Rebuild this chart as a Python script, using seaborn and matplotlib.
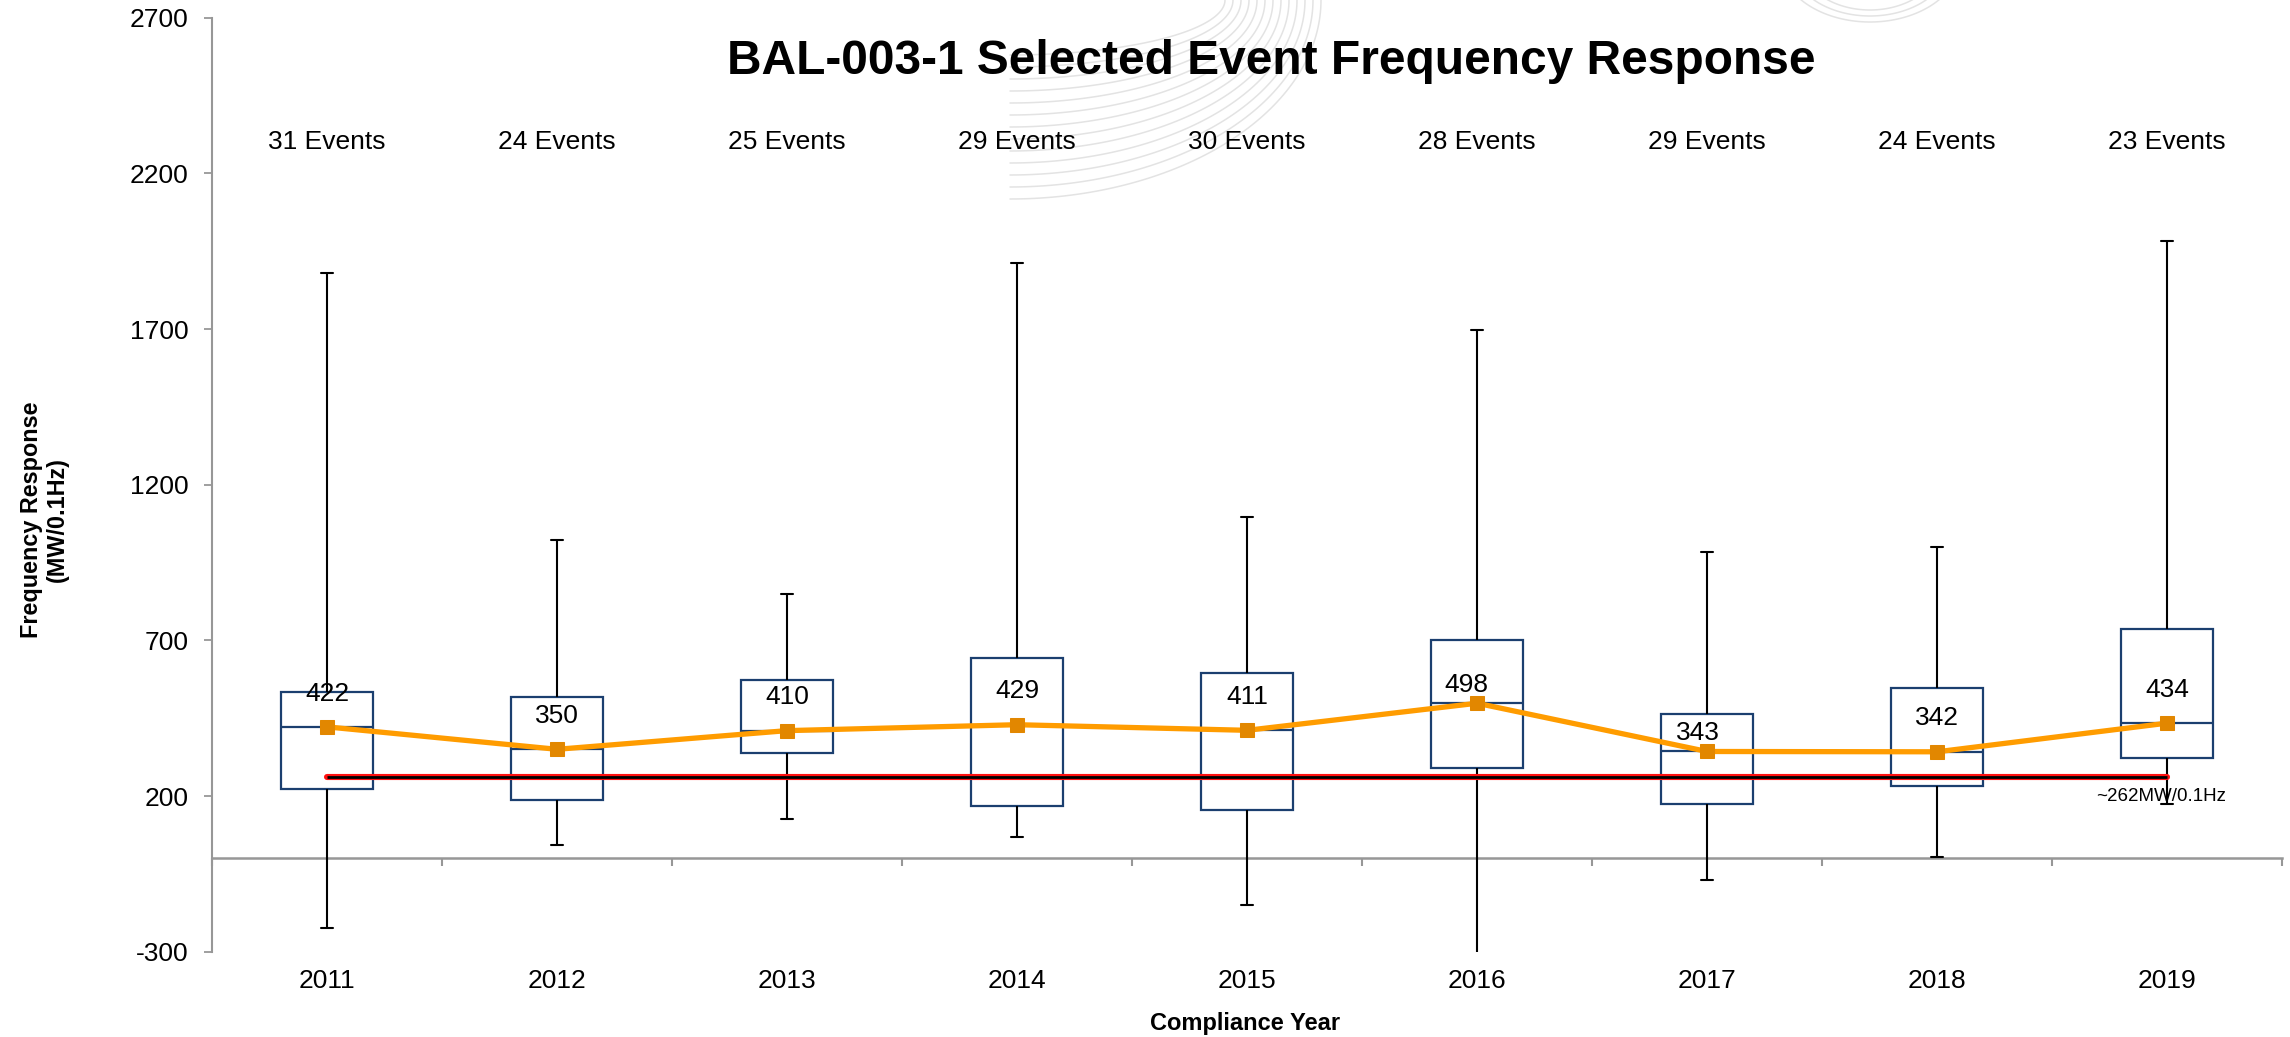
import numpy as np
import pandas as pd
import matplotlib
matplotlib.use("Agg")
import matplotlib.pyplot as plt
import seaborn as sns
from matplotlib.ticker import FixedLocator
from matplotlib.lines import Line2D

# ---------------- data ----------------
years = ["2011", "2012", "2013", "2014", "2015", "2016", "2017", "2018", "2019"]
event_counts = [31, 24, 25, 29, 30, 28, 29, 24, 23]
whisker_low = [-225, 42, 125, 68, -150, -330, -70, 3, 173]
q1 = [224, 187, 339, 168, 155, 289, 173, 233, 323]
median = [422, 350, 410, 429, 411, 498, 343, 342, 434]
q3 = [535, 517, 573, 644, 594, 701, 462, 546, 735]
whisker_high = [1880, 1022, 849, 1913, 1095, 1697, 985, 1001, 1983]
threshold = 262
threshold_label = "~262MW/0.1Hz"
y_ticks = [-300, 200, 700, 1200, 1700, 2200, 2700]

title = "BAL-003-1 Selected Event Frequency Response"
x_title = "Compliance Year"
y_title = "Frequency Response\n(MW/0.1Hz)"

# ---------------- style / layout ----------------
BOX_EDGE = "#1B3F6F"
ORANGE = "#FF9C00"
ORANGE_DARK = "#E28700"
SPINE = "#979797"
label_dx_pt = [0, 0, 0, 0, 0, -7.5, -6.5, 0, 0]
label_dy_pt = [24, 24, 24, 24, 24, 13, 13, 24, 24]
events_y = 2300

sns.set_theme(style="white")
plt.rcParams["font.family"] = ["Liberation Sans", "DejaVu Sans"]
plt.rcParams["axes.unicode_minus"] = False

rows = []
for i, yr in enumerate(years):
    for v in (whisker_low[i], q1[i], median[i], q3[i], whisker_high[i]):
        rows.append({"year": yr, "value": v})
df = pd.DataFrame(rows)

W, H = 2290, 1037
fig = plt.figure(figsize=(W / 100, H / 100), dpi=100)

# faint background watermark swirl (decoration)
for k in range(13):
    a = 215 + 8 * k
    b = 55 + 12 * k
    cx = 1010
    t = np.linspace(0, np.pi / 2, 80)
    xs = cx + a * np.cos(t)
    ys = b * np.sin(t)
    fig.add_artist(Line2D(xs / W, 1 - ys / H, color="#E3E3E3", lw=1.1,
                          transform=fig.transFigure, zorder=0))
for k in range(3):
    t = np.linspace(0.15 * np.pi, 0.85 * np.pi, 60)
    xs = 1870 + (70 + 10 * k) * np.cos(t)
    ys = -40 + (50 + 6 * k) * np.sin(t)
    fig.add_artist(Line2D(xs / W, 1 - ys / H, color="#E3E3E3", lw=1.1,
                          transform=fig.transFigure, zorder=0))

ax = fig.add_axes([0.0926, 0.0823, 0.90393, 0.9006])
ax.patch.set_alpha(0)

sns.boxplot(
    data=df, x="year", y="value", order=years, whis=(0, 100), width=0.4,
    color="white", linecolor=BOX_EDGE, linewidth=1.6, fliersize=0,
    whiskerprops={"color": "black", "linewidth": 1.5},
    capprops={"color": "black", "linewidth": 1.5},
    medianprops={"color": BOX_EDGE, "linewidth": 1.6},
    capwidths=0.055, ax=ax, zorder=2,
)

pos = np.arange(len(years))
thr = [threshold] * len(years)
sns.lineplot(x=pos, y=thr, color="#FF1010", linewidth=4.4,
             solid_capstyle="round", errorbar=None, ax=ax, zorder=4)
sns.lineplot(x=pos, y=thr, color="black", linewidth=2.0,
             solid_capstyle="butt", errorbar=None, ax=ax, zorder=4.1)

sns.lineplot(x=pos, y=median, color=ORANGE, linewidth=3.8, marker="s",
             markersize=10.5, markerfacecolor=ORANGE_DARK,
             markeredgecolor=ORANGE_DARK, errorbar=None, ax=ax, zorder=5)

for i, m in enumerate(median):
    ax.annotate(str(m), (pos[i], m), xytext=(label_dx_pt[i], label_dy_pt[i]),
                textcoords="offset points", ha="center", va="center",
                fontsize=19, color="black", zorder=6)

for i, n in enumerate(event_counts):
    ax.text(pos[i], events_y, f"{n} Events", ha="center", va="center",
            fontsize=19, color="black")

ax.annotate(threshold_label, (pos[-1], threshold), xytext=(-4, -14),
            textcoords="offset points", ha="center", va="center",
            fontsize=13.5, color="black", zorder=6)

ax.set_ylim(-300, 2700)
ax.set_xlim(-0.5, len(years) - 0.5)
ax.set_yticks(y_ticks)
ax.set_xlabel("")
ax.set_ylabel("")

for s in ("top", "right"):
    ax.spines[s].set_visible(False)
ax.spines["left"].set_color(SPINE)
ax.spines["left"].set_linewidth(1.5)
ax.spines["bottom"].set_position(("data", 0))
ax.spines["bottom"].set_color(SPINE)
ax.spines["bottom"].set_linewidth(1.8)
ax.spines["bottom"].set_zorder(1)

ax.tick_params(axis="y", which="major", left=True, direction="out", length=5.5,
               width=1.3, color=SPINE, labelsize=19, labelcolor="black", pad=11.5)
ax.tick_params(axis="x", which="major", bottom=True, length=0, pad=80,
               labelsize=19, labelcolor="black")
ax.xaxis.set_minor_locator(FixedLocator(np.arange(-0.5, len(years), 1.0)))
ax.tick_params(axis="x", which="minor", bottom=True, direction="out", length=5.5,
               width=1.5, color=SPINE)
ax.grid(False)

ax.text(0.5116, 0.9536, title, transform=ax.transAxes, ha="center", va="center",
        fontsize=34.5, fontweight="bold", color="black")

fig.text(0.5437, 0.0135, x_title, ha="center", va="center", fontsize=17,
         fontweight="bold", color="black")
fig.text(0.0194, 0.4985, y_title, ha="center", va="center", rotation=90,
         fontsize=16.8, fontweight="bold", color="black", multialignment="center")

fig.savefig("out.png", dpi=100, facecolor="white")
